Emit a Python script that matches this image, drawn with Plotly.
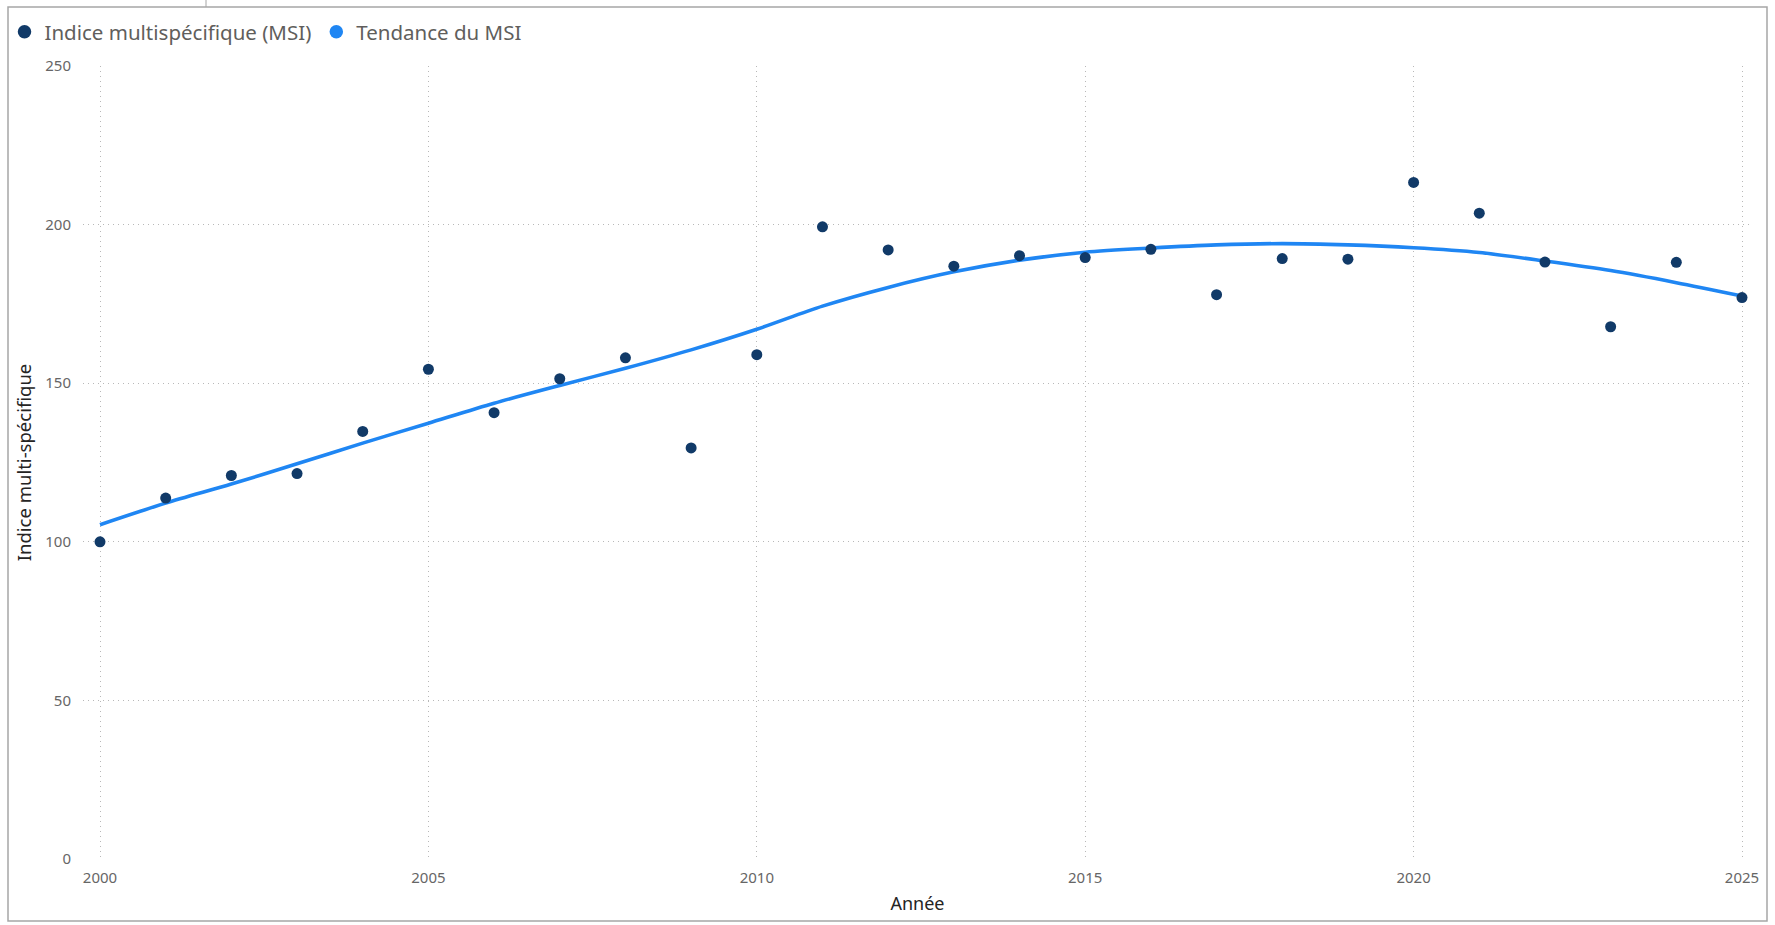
import plotly.graph_objects as go

# ---- data ----
years = [2000, 2001, 2002, 2003, 2004, 2005, 2006, 2007, 2008, 2009, 2010, 2011, 2012,
         2013, 2014, 2015, 2016, 2017, 2018, 2019, 2020, 2021, 2022, 2023, 2024, 2025]
msi = [100.0, 113.8, 120.9, 121.5, 134.8, 154.4, 140.7, 151.4, 158.0, 129.6, 159.0, 199.3, 192.0,
       186.9, 190.2, 189.6, 192.2, 177.9, 189.3, 189.1, 213.3, 203.6, 188.2, 167.8, 188.1, 177.0]
trend = [105.4, 112.2, 118.2, 124.6, 131.1, 137.4, 143.7, 149.3, 154.7, 160.5, 167.0, 174.3, 180.2,
         185.1, 188.8, 191.3, 192.6, 193.6, 194.0, 193.6, 192.7, 191.2, 188.5, 185.5, 181.7, 177.5]
x_ticks = [2000, 2005, 2010, 2015, 2020, 2025]
y_ticks = [0, 50, 100, 150, 200, 250]

name_msi = "Indice multispécifique (MSI)"
name_trend = "Tendance du MSI"

W, H = 1775, 925
ML, MR, MT, MB = 83, 23, 66, 66
FONT = "Segoe UI, Noto Sans, sans-serif"
DOT = "#113A68"
LINE = "#1F86F3"
GRID = "#B8B8B8"
GRIDDASH = "1px,4px"

fig = go.Figure()
fig.add_trace(go.Scatter(
    x=years, y=trend, mode="lines", name=name_trend, showlegend=False,
    line=dict(color=LINE, width=3.6, shape="spline", smoothing=0.8),
    hoverinfo="x+y"))
fig.add_trace(go.Scatter(
    x=years, y=msi, mode="markers", name=name_msi, showlegend=False,
    marker=dict(color=DOT, size=11)))
# legend entries (round symbols, as in the reference)
fig.add_trace(go.Scatter(
    x=[None], y=[None], mode="markers", name=name_msi,
    marker=dict(color=DOT, size=13.5), legendrank=1))
fig.add_trace(go.Scatter(
    x=[None], y=[None], mode="markers", name=name_trend,
    marker=dict(color=LINE, size=13.5), legendrank=2))

# frame around the visual
pw = W - ML - MR
ph = H - MT - MB
def px(xp):
    return (xp - ML) / pw
def py(yp):
    return 1 - (yp - MT) / ph

fig.add_shape(type="rect", xref="paper", yref="paper",
              x0=px(8), x1=px(1767), y0=py(921), y1=py(7),
              line=dict(color="#A6A6A6", width=1.5), layer="below")
fig.add_shape(type="line", xref="paper", yref="paper",
              x0=px(206), x1=px(206), y0=py(7), y1=py(0),
              line=dict(color="#A6A6A6", width=1))

fig.update_layout(
    width=W, height=H,
    margin=dict(l=ML, r=MR, t=MT, b=MB, autoexpand=False),
    paper_bgcolor="white", plot_bgcolor="white",
    font=dict(family=FONT, color="#605E5C"),
    showlegend=True,
    legend=dict(orientation="h", xref="container", yref="container",
                x=4.5 / W, y=1 - 12 / H, xanchor="left", yanchor="top",
                font=dict(size=20.5, color="#605E5C", family=FONT),
                itemwidth=30, traceorder="normal", bgcolor="rgba(0,0,0,0)",
                tracegroupgap=0, itemsizing="trace"),
    xaxis=dict(range=[2000 - 17 / 65.67, 2025 + 10 / 65.67], tickvals=x_ticks,
               showgrid=True, gridcolor=GRID, griddash=GRIDDASH, gridwidth=1,
               zeroline=False, showline=False, ticks="", automargin=False,
               tickfont=dict(size=15, color="#666666"), ticklabelstandoff=8,
               title=dict(text="Année", font=dict(size=18, color="#252423"), standoff=11)),
    yaxis=dict(range=[0, 250], tickvals=y_ticks,
               showgrid=True, gridcolor=GRID, griddash=GRIDDASH, gridwidth=1,
               zeroline=False, showline=False, ticks="", automargin=False,
               tickfont=dict(size=15, color="#666666"), ticklabelstandoff=11,
               title=dict(text="Indice multi-spécifique", font=dict(size=18.5, color="#252423"), standoff=8)),
)

fig.write_html("out.html", config={"displayModeBar": False},
               post_script="document.body.style.margin='0';document.body.style.overflow='hidden';")
